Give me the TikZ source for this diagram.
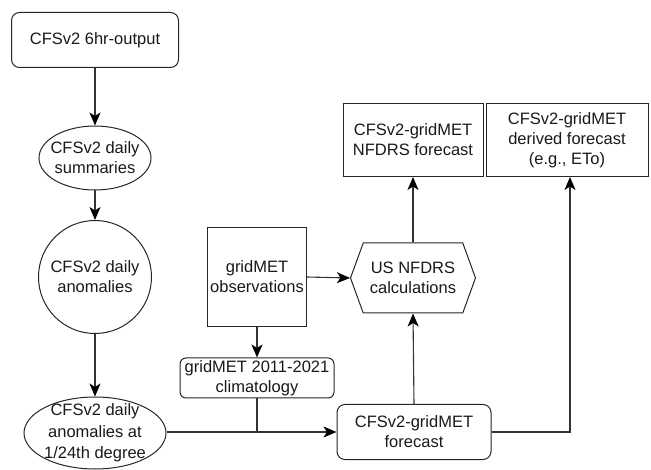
\documentclass[tikz,border=0pt]{standalone}
\usepackage{fontspec}
\setmainfont{Liberation Sans}
\usetikzlibrary{shapes.geometric,shapes.symbols,arrows.meta}
\begin{document}
\begin{tikzpicture}[x=1pt,y=-1pt,
  every node/.style={font=\fontsize{16.5}{20}\selectfont, align=center, inner sep=0pt, text=black!90},
  shp/.style={draw=black!85, line width=1pt},
  rbox/.style={shp, rectangle, rounded corners=8pt},
  sbox/.style={shp, rectangle},
  ell/.style={shp, ellipse},
  hexa/.style={shp, signal, signal to=west and east, signal pointer angle=140, inner xsep=3pt},
  tip/.tip={Stealth[length=13pt,width=11pt,inset=3.5pt,color=black]},
  conn/.style={draw=black!80, line width=1.1pt, arrows={-tip}},
  link/.style={draw=black!80, line width=1.1pt}
]
\useasboundingbox (0,0) rectangle (651,470);

\node (out) [rbox, minimum width=167pt, minimum height=55pt] at (95,40) {CFSv2 6hr-output};
\node (sum) [ell, minimum width=112pt, minimum height=64pt, label={center:CFSv2 daily\\summaries}] at (95,158) {};
\node (anom) [shp, circle, minimum size=113pt] at (95,277) {CFSv2 daily\\anomalies};
\node (anomd) [ell, minimum width=142pt, minimum height=72pt, label={[font=\fontsize{16.5}{21.5}\selectfont]center:CFSv2 daily\\anomalies at\\1/24th degree}] at (95,433) {};

\node (obs) [sbox, minimum width=99pt, minimum height=99pt] at (257,277) {gridMET\\observations};
\node (clim) [rbox, rounded corners=6pt, minimum width=154pt, minimum height=40pt] at (257,378) {gridMET 2011-2021\\climatology};
\node (hex) [hexa, minimum width=125pt, minimum height=70pt] at (413,278) {US NFDRS\\calculations};
\node (fc) [rbox, minimum width=154pt, minimum height=55pt] at (414,432) {CFSv2-gridMET\\forecast};

\node (nfdrs) [sbox, minimum width=140pt, minimum height=73pt] at (413,140) {CFSv2-gridMET\\NFDRS forecast};
\node (der) [sbox, minimum width=162pt, minimum height=73pt] at (567,140) {CFSv2-gridMET\\derived forecast\\(e.g., ETo)};

\draw[conn] (out.south) -- (sum.north);
\draw[conn] (sum.south) -- (anom.north);
\draw[conn] (anom.south) -- (anomd.north);
\draw[conn] (anomd.east |- fc.west) -- (fc.west);
\draw[link] (clim.south) -- (clim.south |- fc.west);
\draw[conn] (obs.east) -- (hex.west);
\draw[conn] (obs.south) -- (clim.north);
\draw[conn] (fc.north) -- (hex.south);
\draw[conn] (hex.north) -- (nfdrs.south);
\draw[conn] (fc.east) -| ([xshift=3pt]der.south);
\end{tikzpicture}
\end{document}
